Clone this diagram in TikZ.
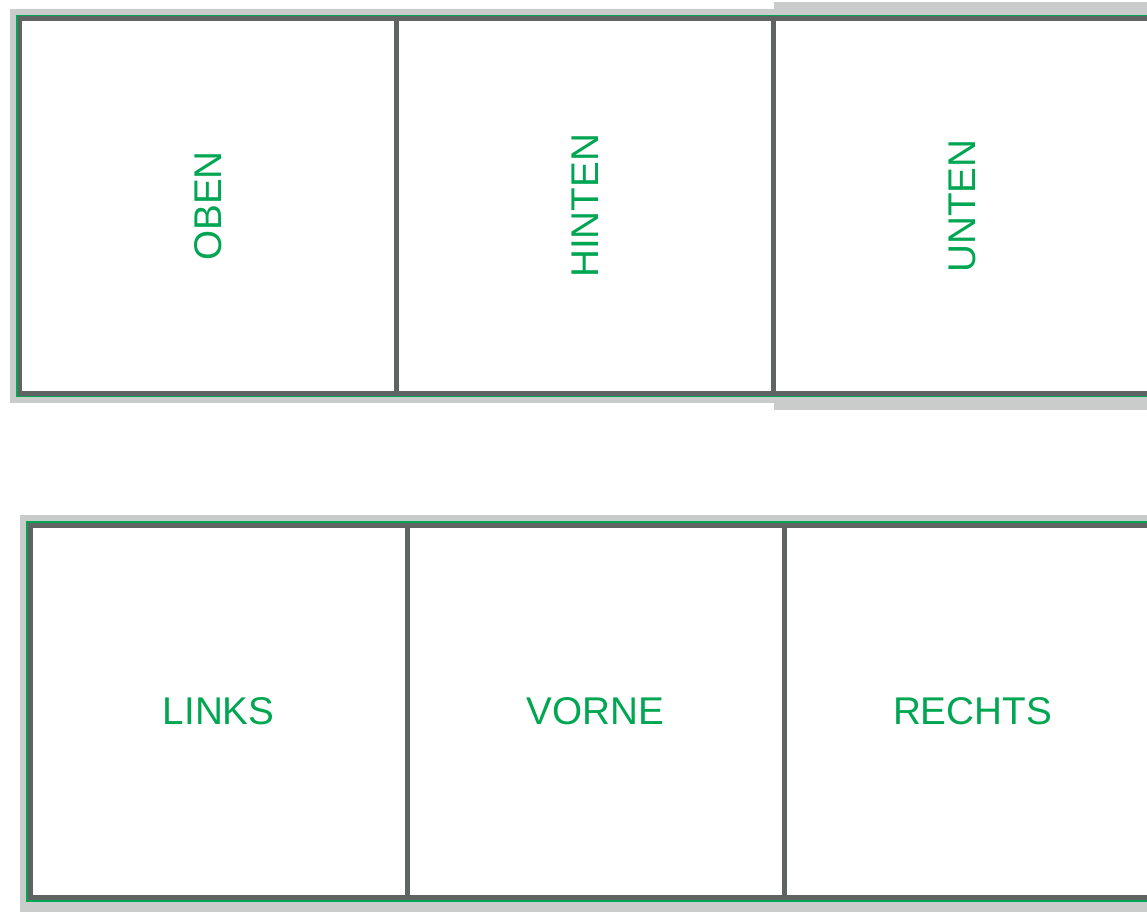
\documentclass[tikz,border=0pt]{standalone}
\usepackage{graphicx}
\usepackage{fontspec}
\setmainfont{Liberation Sans}
\usetikzlibrary{positioning}

\definecolor{netgray}{RGB}{202,204,203}
\definecolor{netgreen}{RGB}{0,166,81}
\definecolor{facegray}{RGB}{95,99,98}

\begin{document}
\begin{tikzpicture}[
    x=0.02cm, y=-0.02cm,
    face/.style={rectangle, draw=facegray, fill=white, line width=0.1cm, outer sep=0pt, inner sep=0pt,
        minimum width=7.54cm, minimum height=7.5cm, text=netgreen,
        font=\fontsize{22}{26}\selectfont},
    rim/.style={draw=netgreen, line width=0.03cm},
]
\useasboundingbox (0,0) rectangle (1147,912);
\clip (0,0) rectangle (1147,912);

% obere Reihe
\fill[netgray] (10,9) rectangle (774,403);
\fill[netgray] (774,2) rectangle (1170,410);
\draw[rim] (16.8,15.3) rectangle (1170,396.7);
\node[face, anchor=north west] (oben) at (20,18.5) {\rotatebox{90}{OBEN}};
\node[face, right=0pt of oben] (hinten) {\rotatebox{90}{HINTEN}};
\node[face, right=0pt of hinten] (unten) {\rotatebox{90}{UNTEN}};

% untere Reihe
\fill[netgray] (20,515) rectangle (1170,930);
\draw[rim] (27,521.8) rectangle (1170,901.2);
\node[face, anchor=north west, minimum height=7.46cm] (links) at (30.2,525) {LINKS};
\node[face, minimum height=7.46cm, right=0pt of links] (vorne) {VORNE};
\node[face, minimum height=7.46cm, right=0pt of vorne] (rechts) {RECHTS};

\end{tikzpicture}
\end{document}
